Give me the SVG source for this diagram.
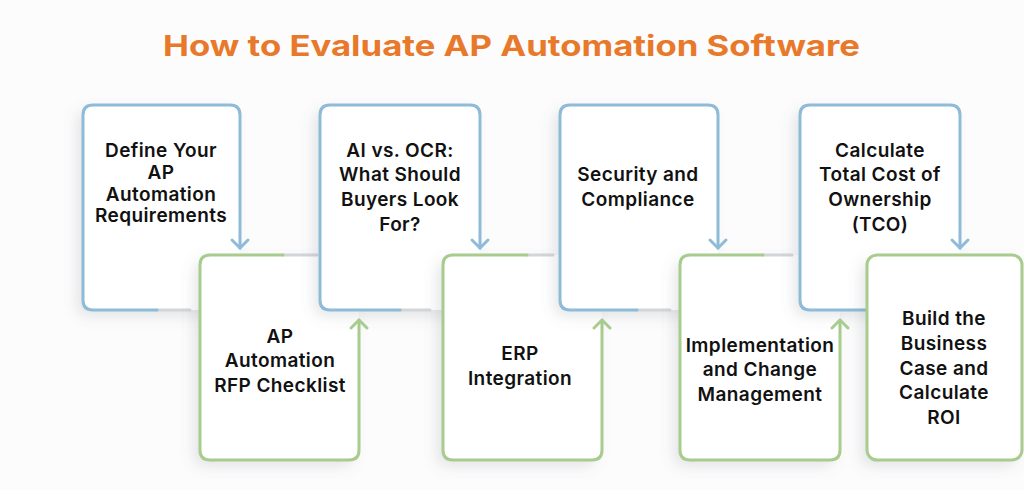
<svg xmlns="http://www.w3.org/2000/svg" width="1024" height="490" viewBox="0 0 1024 490">
<defs>
<filter id="sh" x="-30%" y="-30%" width="160%" height="160%">
<feDropShadow dx="-6" dy="6" stdDeviation="7" flood-color="#6b7280" flood-opacity="0.18"/>
</filter>
<style>
.title{font-family:Inter,"Noto Sans",sans-serif;font-weight:700;font-size:29px;fill:#E8792B}
.t{font-family:Inter,"Noto Sans",sans-serif;font-weight:600;font-size:19px;letter-spacing:0.4px;fill:#111111;text-anchor:middle}
.card{fill:#ffffff;stroke:none}
.b{fill:none;stroke:#8DBBD8;stroke-width:3;stroke-linecap:round;stroke-linejoin:round}
.g{fill:none;stroke:#A8CB8E;stroke-width:3;stroke-linecap:round;stroke-linejoin:round}
.gr{fill:none;stroke:#D3D6D9;stroke-width:3;stroke-linecap:round}
</style>
</defs>
<rect width="1024" height="490" fill="#FCFCFC"/>
<text class="title" x="163" y="56" textLength="697" lengthAdjust="spacingAndGlyphs">How to Evaluate AP Automation Software</text>

<g id="node1">
<rect class="card" x="83" y="105" width="157" height="205" rx="10" filter="url(#sh)"/>
<path class="gr" d="M157 310 H190"/>
<path class="b" d="M157 310 H93 Q83 310 83 300 V115 Q83 105 93 105 H230 Q240 105 240 115 V248"/>
<text class="t"><tspan x="161" y="157">Define Your</tspan><tspan x="161" y="179">AP</tspan><tspan x="161" y="201">Automation</tspan><tspan x="161" y="222">Requirements</tspan></text>
</g>
<g id="node2">
<rect class="card" x="200" y="255" width="159" height="205" rx="10" filter="url(#sh)"/>
<path class="gr" d="M283 255 H317"/>
<path class="g" d="M283 255 H210 Q200 255 200 265 V450 Q200 460 210 460 H349 Q359 460 359 450 V320"/>
<text class="t"><tspan x="280" y="343">AP</tspan><tspan x="280" y="367">Automation</tspan><tspan x="280" y="392">RFP Checklist</tspan></text>
</g>
<g id="node3">
<rect class="card" x="320" y="105" width="160" height="205" rx="10" filter="url(#sh)"/>
<path class="gr" d="M400 310 H430"/>
<path class="b" d="M400 310 H330 Q320 310 320 300 V115 Q320 105 330 105 H470 Q480 105 480 115 V248"/>
<text class="t"><tspan x="400" y="157">AI vs. OCR:</tspan><tspan x="400" y="181">What Should</tspan><tspan x="400" y="206">Buyers Look</tspan><tspan x="400" y="231">For?</tspan></text>
</g>
<g id="node4">
<rect class="card" x="443" y="255" width="159" height="205" rx="10" filter="url(#sh)"/>
<path class="gr" d="M527 255 H553"/>
<path class="g" d="M527 255 H453 Q443 255 443 265 V450 Q443 460 453 460 H592 Q602 460 602 450 V320"/>
<text class="t"><tspan x="520" y="360">ERP</tspan><tspan x="520" y="385">Integration</tspan></text>
</g>
<g id="node5">
<rect class="card" x="560" y="105" width="158" height="205" rx="10" filter="url(#sh)"/>
<path class="gr" d="M637 310 H670"/>
<path class="b" d="M637 310 H570 Q560 310 560 300 V115 Q560 105 570 105 H708 Q718 105 718 115 V248"/>
<text class="t"><tspan x="638" y="181">Security and</tspan><tspan x="638" y="206">Compliance</tspan></text>
</g>
<g id="node6">
<rect class="card" x="680" y="255" width="160" height="205" rx="10" filter="url(#sh)"/>
<path class="gr" d="M763 255 H792"/>
<path class="g" d="M763 255 H690 Q680 255 680 265 V450 Q680 460 690 460 H830 Q840 460 840 450 V320"/>
<text class="t"><tspan x="760" y="352">Implementation</tspan><tspan x="760" y="376">and Change</tspan><tspan x="760" y="401">Management</tspan></text>
</g>
<g id="node7">
<rect class="card" x="800" y="105" width="160" height="205" rx="10" filter="url(#sh)"/>
<path class="b" d="M867 310 H810 Q800 310 800 300 V115 Q800 105 810 105 H950 Q960 105 960 115 V248"/>
<text class="t"><tspan x="880" y="157">Calculate</tspan><tspan x="880" y="181">Total Cost of</tspan><tspan x="880" y="206">Ownership</tspan><tspan x="880" y="231">(TCO)</tspan></text>
</g>
<g id="node8">
<rect class="card" x="867" y="255" width="155" height="205" rx="10" filter="url(#sh)"/>
<rect class="g" x="867" y="255" width="155" height="205" rx="10"/>
<text class="t"><tspan x="944" y="325">Build the</tspan><tspan x="944" y="350">Business</tspan><tspan x="944" y="375">Case and</tspan><tspan x="944" y="399">Calculate</tspan><tspan x="944" y="424">ROI</tspan></text>
</g>

<g id="connectors">
<path class="b" d="M232 240 L240 248 L248 240"/>
<path class="g" d="M351 328 L359 320 L367 328"/>
<path class="b" d="M472 240 L480 248 L488 240"/>
<path class="g" d="M594 328 L602 320 L610 328"/>
<path class="b" d="M710 240 L718 248 L726 240"/>
<path class="g" d="M832 328 L840 320 L848 328"/>
<path class="b" d="M952 240 L960 248 L968 240"/>
</g>
</svg>
